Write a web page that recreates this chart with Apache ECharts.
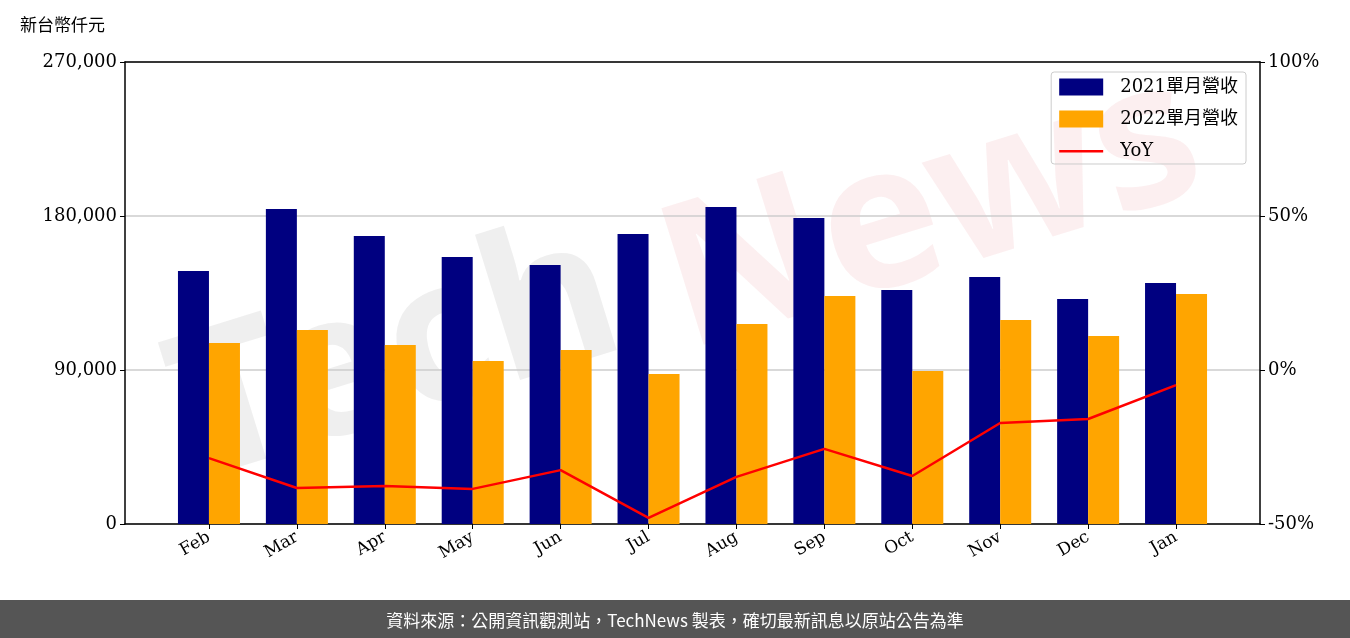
<!DOCTYPE html>
<html><head><meta charset="utf-8">
<script src="https://cdn.jsdelivr.net/npm/echarts@6/dist/echarts.min.js"></script>
<style>html,body{margin:0;padding:0;background:#fff}#c{width:1350px;height:638px}</style>
</head><body><div id="c"></div>
<script>
var months = ['Feb', 'Mar', 'Apr', 'May', 'Jun', 'Jul', 'Aug', 'Sep', 'Oct', 'Nov', 'Dec', 'Jan'];
var rev2021 = [147900, 184100, 168300, 156000, 151400, 169500, 185300, 178800, 136800, 144400, 131500, 140800];
var rev2022 = [105800, 113400, 104600, 95300, 101700, 87700, 116900, 133200, 89400, 119200, 109900, 134400];
var yoy = [-28.6, -38.3, -37.7, -38.6, -32.5, -48, -34.7, -25.6, -34.4, -17.2, -15.9, -4.9];

var font = "'DejaVu Serif', 'Noto Sans CJK TC', serif";
var frameLine = {onZero: false, show: true, lineStyle: {color: '#000', width: 1.5}};
var chart = echarts.init(document.getElementById('c'));
chart.setOption({
    animation: false,
    textStyle: {fontFamily: font},
    graphic: [
        {type: 'text', left: 20, top: 16, style: {text: '新台幣仟元', font: "17px 'Noto Sans CJK TC'", fill: '#000'}},
        {type: 'text', x: 150, y: 330, rotation: 0.3, z: 0,
            style: {text: 'Tech', font: "bold 200px 'Noto Sans'", fill: 'rgba(120,120,120,0.12)'}},
        {type: 'text', x: 640, y: 200, rotation: 0.3, z: 0,
            style: {text: 'News', font: "bold 200px 'Noto Sans'", fill: 'rgba(230,120,130,0.12)'}},
        {type: 'rect', left: 0, bottom: 0, shape: {width: 1350, height: 38}, style: {fill: '#555'}},
        {type: 'text', left: 'center', bottom: 9, style: {text: '資料來源：公開資訊觀測站，TechNews 製表，確切最新訊息以原站公告為準', font: "17px 'Noto Sans CJK TC'", fill: '#fff'}}
    ],
    legend: {
        right: 104, top: 72, orient: 'vertical', itemWidth: 44, itemHeight: 17, itemGap: 14,
        borderColor: '#ccc', borderWidth: 1, borderRadius: 3, padding: [6, 8, 4, 8],
        textStyle: {fontSize: 18, color: '#000', fontFamily: font, padding: [0, 0, 0, 12]},
        data: [
            {name: '2021單月營收', icon: 'rect'},
            {name: '2022單月營收', icon: 'rect'},
            {name: 'YoY', icon: 'path://M0,0L0,0.01M0,7.5h44v2.5h-44zM0,17L0,17.01', itemStyle: {color: 'red'}}
        ]
    },
    grid: [
        {left: 125, right: 90, top: 62, bottom: 114},
        {left: 165, right: 130, top: 62, bottom: 114}
    ],
    xAxis: [
        {gridIndex: 0, type: 'value', min: 0, max: 1, axisLabel: {show: false}, axisTick: {show: false}, splitLine: {show: false}, axisLine: frameLine},
        {gridIndex: 0, type: 'value', position: 'top', min: 0, max: 1, axisLabel: {show: false}, axisTick: {show: false}, splitLine: {show: false}, axisLine: frameLine},
        {gridIndex: 1, type: 'category', data: months, axisLine: {show: false},
            axisTick: {show: true, alignWithLabel: true, length: 5, lineStyle: {color: '#000'}},
            axisLabel: {rotate: 30, fontSize: 17, color: '#000', margin: 12}}
    ],
    yAxis: [
        {gridIndex: 0, type: 'value', min: 0, max: 270000, interval: 90000,
            axisLine: frameLine, axisTick: {show: true, length: 5, lineStyle: {color: '#000'}},
            axisLabel: {fontSize: 18, color: '#000', formatter: function (v) { return v.toLocaleString('en-US'); }},
            splitLine: {show: true, lineStyle: {color: '#ccc', width: 1.5}}},
        {gridIndex: 0, type: 'value', position: 'right', min: -50, max: 100, interval: 50,
            axisLine: frameLine, axisTick: {show: true, length: 5, lineStyle: {color: '#000'}},
            axisLabel: {fontSize: 18, color: '#000', formatter: '{value}%'}, splitLine: {show: false}},
        {gridIndex: 1, type: 'value', min: 0, max: 270000, show: false},
        {gridIndex: 1, type: 'value', min: -50, max: 100, show: false}
    ],
    series: [
        {name: '2021單月營收', type: 'bar', xAxisIndex: 2, yAxisIndex: 2, barWidth: 31, barGap: '0%', itemStyle: {color: '#000080'}, data: rev2021, z: 3},
        {name: '2022單月營收', type: 'bar', xAxisIndex: 2, yAxisIndex: 2, barWidth: 31, barGap: '0%', itemStyle: {color: '#FFA500'}, data: rev2022, z: 3},
        {name: 'YoY', type: 'line', xAxisIndex: 2, yAxisIndex: 3, symbol: 'none', lineStyle: {color: 'red', width: 2.5}, itemStyle: {color: 'red'}, data: yoy, z: 5}
    ]
});
</script></body></html>
